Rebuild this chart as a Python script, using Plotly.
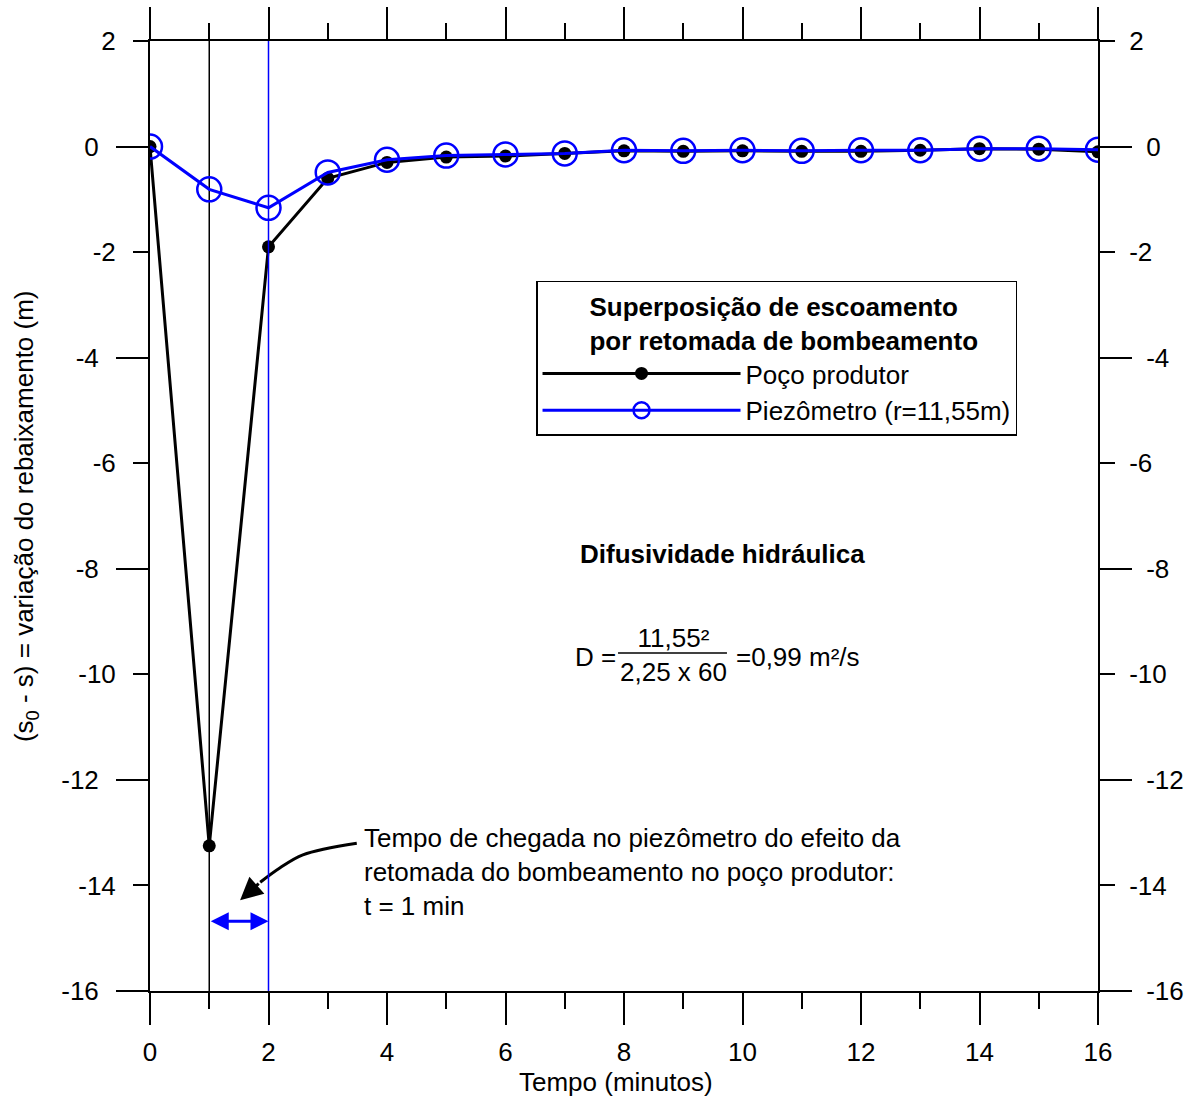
import plotly.graph_objects as go

# ---- data ----
tempo = list(range(0, 17))
poco_produtor = [0.0, -13.25, -1.9, -0.6, -0.3, -0.2, -0.18, -0.13, -0.08, -0.09,
                 -0.08, -0.09, -0.09, -0.07, -0.04, -0.05, -0.1]
piezometro = [0.0, -0.81, -1.16, -0.49, -0.25, -0.17, -0.15, -0.13, -0.07, -0.08,
              -0.07, -0.08, -0.07, -0.07, -0.04, -0.04, -0.06]

x_major = [0, 2, 4, 6, 8, 10, 12, 14, 16]
x_minor = [1, 3, 5, 7, 9, 11, 13, 15]
y_major = [0, -4, -8, -12, -16]
y_major_labels = ["0", "-4", "-8", "-12", "-16"]
y_minor = [2, -2, -6, -10, -14]
y_minor_labels = ["2", "-2", "-6", "-10", "-14"]
x_range = [0, 16]
y_range = [-16, 2]

vline_black = 1          # time of pumping restart effect at the well
vline_blue = 2           # arrival time at the piezometer
delay_y = -14.68         # level of the blue double arrow
pointer_x = [3.49, 2.58, 2.19, 1.86]
pointer_y = [-13.20, -13.42, -13.67, -13.94]
pointer_tip = (1.52, -14.28)

FONT = "Liberation Sans, Arial, sans-serif"
FS = 26
BLUE = "#0000ff"
NB = "\u00a0\u00a0"

fig = go.Figure()

# reference vertical lines (drawn through the right minor-label axis)
fig.add_trace(go.Scatter(
    x=[vline_black, vline_black], y=y_range, mode="lines", showlegend=False,
    hoverinfo="skip", line=dict(color="black", width=1.5), xaxis="x", yaxis="y4",
))
fig.add_trace(go.Scatter(
    x=[vline_blue, vline_blue], y=y_range, mode="lines", showlegend=False,
    hoverinfo="skip", line=dict(color=BLUE, width=1.5), xaxis="x", yaxis="y4",
))

fig.add_trace(go.Scatter(
    x=tempo, y=poco_produtor, mode="lines+markers", name="Poço produtor",
    line=dict(color="black", width=3),
    marker=dict(color="black", size=13, symbol="circle"),
    xaxis="x", yaxis="y",
))
# curved pointer shaft
fig.add_trace(go.Scatter(
    x=pointer_x, y=pointer_y, mode="lines", showlegend=False, hoverinfo="skip",
    line=dict(color="black", width=3, shape="spline"), xaxis="x", yaxis="y2",
))
fig.add_trace(go.Scatter(
    x=tempo, y=piezometro, mode="lines+markers", name="Piezômetro (r=11,55m)",
    line=dict(color=BLUE, width=3),
    marker=dict(color=BLUE, size=24, symbol="circle-open",
                line=dict(color=BLUE, width=2.5)),
    xaxis="x2", yaxis="y3",
))

# blue double arrow
fig.add_annotation(x=vline_blue, y=delay_y, ax=vline_black, ay=delay_y,
                   xref="x", yref="y", axref="x", ayref="y", text="",
                   showarrow=True, arrowside="end+start", arrowhead=2,
                   startarrowhead=2, arrowsize=1.2, startarrowsize=1.2,
                   arrowwidth=3, arrowcolor=BLUE)
# pointer head
fig.add_annotation(x=pointer_tip[0], y=pointer_tip[1], ax=pointer_x[-1], ay=pointer_y[-1],
                   xref="x", yref="y", axref="x", ayref="y", text="",
                   showarrow=True, arrowhead=2, arrowsize=1.5, arrowwidth=3,
                   arrowcolor="black")

fig.add_annotation(x=3.58, y=-12.77, xref="x", yref="y", xanchor="left", yanchor="top",
                   align="left", showarrow=False,
                   text="Tempo de chegada no piezômetro do efeito da<br>"
                        "retomada do bombeamento no poço produtor:<br>t = 1 min",
                   font=dict(family=FONT, size=FS, color="black"))

fig.add_annotation(x=0.6034, y=0.46, xref="paper", yref="paper", showarrow=False,
                   text="<b>Difusividade hidráulica</b>",
                   font=dict(family=FONT, size=FS, color="black"))

# formula
fig.add_annotation(x=0.4937, y=0.3516, xref="paper", yref="paper", xanchor="right",
                   showarrow=False, text="D =",
                   font=dict(family=FONT, size=FS, color="black"))
fig.add_annotation(x=0.5517, y=0.3537, xref="paper", yref="paper", showarrow=False,
                   xanchor="center", yanchor="middle", align="center",
                   text="11,55²<br>2,25 x 60",
                   font=dict(family=FONT, size=FS, color="black"))
fig.add_annotation(x=0.6160, y=0.3516, xref="paper", yref="paper", xanchor="left",
                   showarrow=False, text="=0,99 m²/s",
                   font=dict(family=FONT, size=FS, color="black"))
fig.add_shape(type="line", xref="paper", yref="paper", x0=0.4937, x1=0.6086,
              y0=0.3558, y1=0.3558, line=dict(color="black", width=1.5))

# axis titles
fig.add_annotation(x=-0.1318, y=0.5, xref="paper", yref="paper", textangle=-90,
                   xanchor="center", yanchor="middle", showarrow=False,
                   text="(s<sub>0</sub> - s) = variação do rebaixamento (m)",
                   font=dict(family=FONT, size=FS, color="black"))
fig.add_annotation(x=0.4916, y=-0.0958, xref="paper", yref="paper", showarrow=False,
                   xanchor="center", yanchor="middle",
                   text="Tempo (minutos)",
                   font=dict(family=FONT, size=FS, color="black"))

tickfont = dict(family=FONT, size=FS, color="black")
common = dict(showgrid=False, zeroline=False, ticks="outside", tickcolor="black",
              tickwidth=2, linecolor="black", linewidth=2, tickfont=tickfont,
              fixedrange=True)
minor_x = dict(tickmode="array", tickvals=x_minor, ticklen=16, ticks="outside",
               tickcolor="black", tickwidth=2)

fig.update_layout(
    width=1188, height=1096,
    margin=dict(l=150, r=90, t=41, b=105, autoexpand=False),
    paper_bgcolor="white", plot_bgcolor="white",
    font=dict(family=FONT, size=FS, color="black"),
    xaxis=dict(range=x_range, tickmode="array", tickvals=x_major, ticklen=32,
               showline=True, ticklabelstandoff=5, minor=minor_x, **common),
    xaxis2=dict(range=x_range, overlaying="x", side="top", anchor="y",
                tickmode="array", tickvals=x_major, ticklen=32, showline=True,
                showticklabels=False, minor=minor_x, **common),
    yaxis=dict(range=y_range, tickmode="array", tickvals=y_major,
               ticktext=y_major_labels, ticklen=32, anchor="x", side="left",
               showline=True, ticklabelstandoff=12, **common),
    yaxis2=dict(range=y_range, overlaying="y", side="left", anchor="x",
                tickmode="array", tickvals=y_minor, ticktext=y_minor_labels,
                ticklen=16, showline=False, ticklabelstandoff=12, **common),
    yaxis3=dict(range=y_range, overlaying="y", side="right", anchor="x",
                tickmode="array", tickvals=y_major, ticktext=y_major_labels,
                ticklen=32, showline=True, ticklabelstandoff=9, **common),
    yaxis4=dict(range=y_range, overlaying="y", side="right", anchor="x",
                tickmode="array", tickvals=y_minor, ticktext=y_minor_labels,
                ticklen=16, showline=False, ticklabelstandoff=9, **common),
    legend=dict(x=0.4072, y=0.7474, xanchor="left", yanchor="top",
                bgcolor="white", bordercolor="black", borderwidth=1.5,
                font=dict(family=FONT, size=FS, color="black"),
                itemwidth=198, tracegroupgap=0,
                title=dict(text="<b>" + NB + "Superposição de escoamento<br>" + NB
                                + "por retomada de bombeamento</b>",
                           side="top center",
                           font=dict(family=FONT, size=FS, color="black"))),
    showlegend=True,
)

# remove the default page margin so the figure fills the window exactly
page_fix = ("document.body.style.margin='0px';"
            "document.documentElement.style.overflow='hidden';"
            "document.body.style.overflow='hidden';")
fig.write_html("out.html", post_script=page_fix,
               config={"displayModeBar": False, "staticPlot": True})
